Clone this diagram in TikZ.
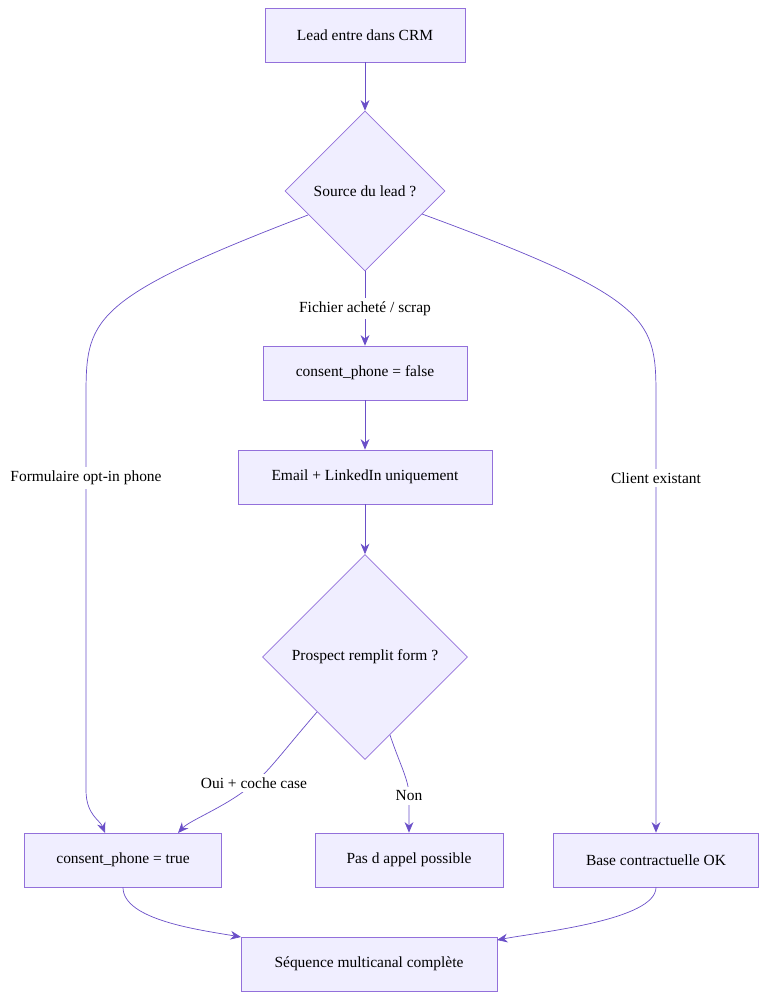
\documentclass[tikz,border=0pt]{standalone}
\usepackage{fontspec}
\setmainfont{Liberation Serif}
\usetikzlibrary{positioning, arrows.meta, shapes.geometric}
\definecolor{boxfill}{HTML}{F0EEFF}
\definecolor{boxline}{HTML}{9370DB}
\definecolor{edgecol}{HTML}{6A4FC8}
\begin{document}
\begin{tikzpicture}[x=0.02cm, y=-0.02cm,
    box/.style={rectangle, draw=boxline, fill=boxfill, minimum height=1.08cm, font=\fontsize{8.8}{10}\selectfont, inner sep=0pt},
    choice/.style={diamond, draw=boxline, fill=boxfill, aspect=1, font=\fontsize{8.8}{10}\selectfont, inner sep=0pt},
    flow/.style={draw=edgecol, -{Stealth[length=6pt,width=5pt]}},
    edgelabel/.style={fill=white, font=\fontsize{8.8}{10}\selectfont, inner sep=2pt}
]
\useasboundingbox (0,0) rectangle (767,1000);
\node[box, minimum width=4cm](lead) at (365,35){Lead entre dans CRM};
\node[choice, minimum width=3.2cm, minimum height=3.2cm](source) at (365,191){Source du lead ?};
\node[box, minimum width=4.08cm](cfalse) at (365,373){consent\_phone = false};
\node[box, minimum width=5.08cm](emailonly) at (365,477){Email + LinkedIn uniquement};
\node[choice, minimum width=4.1cm, minimum height=4.1cm](prospect) at (365,657){Prospect remplit form ?};
\node[box, minimum width=3.94cm](ctrue) at (123,860){consent\_phone = true};
\node[box, minimum width=3.76cm](noappel) at (409,860){Pas d appel possible};
\node[box, minimum width=4.1cm](basecontrat) at (656,860){Base contractuelle OK};
\node[box, minimum width=5.12cm](sequence) at (369,964){Séquence multicanal complète};

% free ends
\coordinate (srcleft) at (308,215);
\coordinate (srcright) at (422,214);
\coordinate (prosleft) at (317,712);
\coordinate (prosright) at (390,735);
\coordinate (ctrueend) at (105,833);
\coordinate (seqleft) at (241,937);
\coordinate (seqright) at (497,940);

\draw[flow] (lead) -- (source);
\draw[flow] (source) -- node[edgelabel]{Fichier acheté / scrap} (cfalse);
\draw[flow] (cfalse) -- (emailonly);
\draw[flow] (emailonly) -- (prospect);
\draw[flow] (srcleft) .. controls (86,300) and (86,320) .. (86,400) -- node[edgelabel, pos=0.2]{Formulaire opt-in phone} (86,790) .. controls (86,815) and (100,820) .. (ctrueend);
\draw[flow] (srcright) .. controls (656,300) and (656,320) .. (656,400) -- node[edgelabel, pos=0.18]{Client existant} (basecontrat.north);
\draw[flow] (prosleft) .. controls (280,755) and (270,770) .. (254,783) node[edgelabel]{Oui + coche case} .. controls (230,805) and (190,820) .. (178,833);
\draw[flow] (prosright) .. controls (400,765) and (409,780) .. (409,796) node[edgelabel]{Non} -- (noappel.north);
\draw[flow] (ctrue.south) .. controls (123,920) and (200,930) .. (seqleft);
\draw[flow] (basecontrat.south) .. controls (656,920) and (540,932) .. (seqright);
\end{tikzpicture}
\end{document}
